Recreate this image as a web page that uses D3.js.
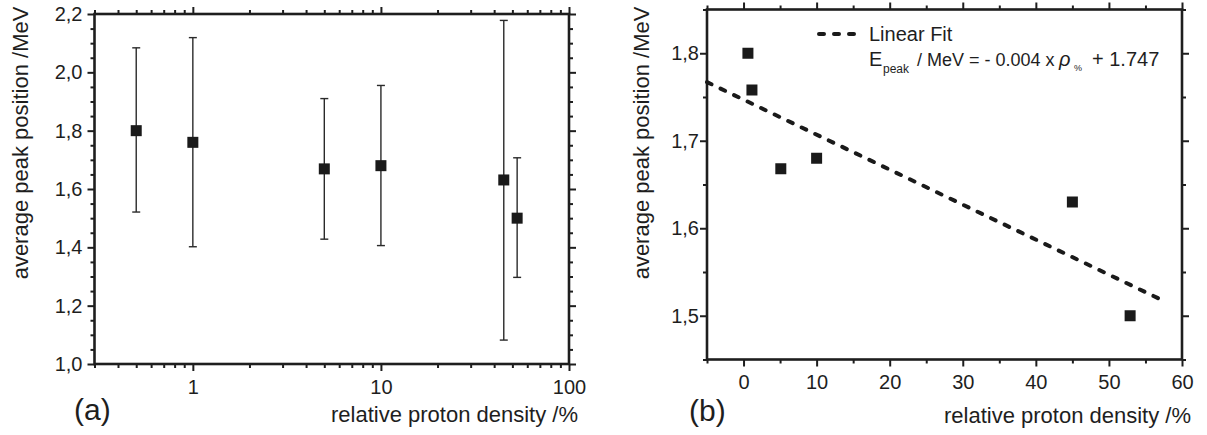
<!DOCTYPE html>
<html>
<head>
<meta charset="utf-8">
<script src="https://cdn.jsdelivr.net/npm/d3@7"></script>
<style>
  html, body { margin: 0; padding: 0; background: #fff; }
  svg { display: block; }
  text { font-family: "Liberation Sans", Arial, Helvetica, sans-serif; fill: #1e1e1e; }
</style>
</head>
<body>
<svg id="chart" width="1207" height="435"></svg>
<script>
// ---------------- data ----------------
const density = [0.5, 1, 5, 10, 45, 53];               // relative proton density /%
const peakLeft = [1.80, 1.76, 1.669, 1.68, 1.631, 1.50]; // panel (a) average peak position
const errLow = [1.521, 1.402, 1.428, 1.406, 1.082, 1.297];
const errHigh = [2.084, 2.119, 1.910, 1.955, 2.178, 1.707];
const densityRight = [0.6, 1.15, 5.1, 10, 45, 52.9];
const peakRight = [1.80, 1.758, 1.668, 1.68, 1.63, 1.50];
const fitSlope = -0.004;
const fitIntercept = 1.747;
const fitRange = [-5, 57.5];

const leftYMajor = [1.0, 1.2, 1.4, 1.6, 1.8, 2.0, 2.2];
const leftYMinor = [1.05,1.1,1.15,1.25,1.3,1.35,1.45,1.5,1.55,1.65,1.7,1.75,1.85,1.9,1.95,2.05,2.1,2.15];
const leftXMajor = [1, 10, 100];
const leftXMinor = [0.3,0.4,0.5,0.6,0.7,0.8,0.9,2,3,4,5,6,7,8,9,20,30,40,50,60,70,80,90];
const rightYMajor = [1.5, 1.6, 1.7, 1.8];
const rightYMinor = [1.45, 1.55, 1.65, 1.75, 1.85];
const rightXMajor = [0, 10, 20, 30, 40, 50, 60];
const rightXMinor = [-5, 5, 15, 25, 35, 45, 55];

const yTitle = "average peak position /MeV";
const xTitle = "relative proton density /%";

// ---------------- helpers ----------------
const svg = d3.select("#chart");
const comma = d => d.toFixed(1).replace(".", ",");
const ink = "#1e1e1e";

function drawAxis(g, axis, opts) {
  g.call(axis);
  g.select(".domain").remove();
  g.selectAll(".tick line").attr("stroke", ink).attr("stroke-width", opts.tw || 2);
  g.selectAll(".tick text").attr("fill", ink).style("font-size", (opts.fs || 20) + "px")
    .style("font-family", '"Liberation Sans", Arial, sans-serif');
  if (opts.noText) g.selectAll(".tick text").remove();
}

function panel(cfg) {
  const { x, y, L, R, T, B } = cfg;
  const g = svg.append("g");
  const sides = [
    ["bottom", d3.axisBottom, B, x, cfg.xMajor, cfg.xMinor, cfg.xFmt],
    ["top", d3.axisTop, T, x, cfg.xMajor, cfg.xMinor, null],
    ["left", d3.axisLeft, L, y, cfg.yMajor, cfg.yMinor, cfg.yFmt],
    ["right", d3.axisRight, R, y, cfg.yMajor, cfg.yMinor, null]
  ];
  sides.forEach(([side, gen, pos, sc, maj, min, fmt]) => {
    const tr = (side === "bottom" || side === "top") ? `translate(0,${pos})` : `translate(${pos},0)`;
    const gm = g.append("g").attr("transform", tr);
    drawAxis(gm, gen(sc).tickValues(min).tickSize(4).tickFormat(""), { noText: true });
    const gM = g.append("g").attr("transform", tr);
    const ax = gen(sc).tickValues(maj).tickSize(7);
    if (fmt) {
      ax.tickFormat(fmt).tickPadding(side === "left" ? cfg.yPad : cfg.xPad);
      drawAxis(gM, ax, { fs: 20 });
    } else {
      ax.tickFormat("");
      drawAxis(gM, ax, { noText: true });
    }
  });
  g.append("rect").attr("x", L).attr("y", T).attr("width", R - L).attr("height", B - T)
    .attr("fill", "none").attr("stroke", ink).attr("stroke-width", 2.6);
  return g;
}

// ---------------- panel (a) ----------------
const xa = d3.scaleLog().domain([0.3, 100]).range([94.5, 569]);
const ya = d3.scaleLinear().domain([1.0, 2.2]).range([364, 14]);
const ga = panel({ x: xa, y: ya, L: 94.5, R: 569, T: 14, B: 364,
  xMajor: leftXMajor, xMinor: leftXMinor, yMajor: leftYMajor, yMinor: leftYMinor,
  xFmt: d => String(d), yFmt: comma, xPad: 9, yPad: 5 });

const pts = density.map((d, i) => ({ x: d, y: peakLeft[i], lo: errLow[i], hi: errHigh[i] }));
const eb = ga.append("g").attr("stroke", "#2a2a2a").attr("stroke-width", 1.4);
eb.selectAll("line.v").data(pts).join("line")
  .attr("x1", d => xa(d.x)).attr("x2", d => xa(d.x))
  .attr("y1", d => ya(d.lo)).attr("y2", d => ya(d.hi));
eb.selectAll("line.t").data(pts).join("line")
  .attr("x1", d => xa(d.x) - 4).attr("x2", d => xa(d.x) + 4)
  .attr("y1", d => ya(d.hi)).attr("y2", d => ya(d.hi));
eb.selectAll("line.b").data(pts).join("line")
  .attr("x1", d => xa(d.x) - 4).attr("x2", d => xa(d.x) + 4)
  .attr("y1", d => ya(d.lo)).attr("y2", d => ya(d.lo));
const sq = 11;
ga.append("g").selectAll("rect").data(pts).join("rect")
  .attr("x", d => xa(d.x) - sq / 2).attr("y", d => ya(d.y) - sq / 2)
  .attr("width", sq).attr("height", sq).attr("fill", "#1a1a1a");

svg.append("text").attr("transform", "translate(28,143) rotate(-90)")
  .attr("text-anchor", "middle").style("font-size", "22px").text(yTitle);
svg.append("text").attr("x", 578).attr("y", 422).attr("text-anchor", "end")
  .style("font-size", "22px").text(xTitle);
svg.append("text").attr("x", 74).attr("y", 420).style("font-size", "30px").text("(a)");

// ---------------- panel (b) ----------------
const xb = d3.scaleLinear().domain([-5, 60]).range([707, 1182]);
const yb = d3.scaleLinear().domain([1.45, 1.85]).range([359.5, 9.5]);
const gb = panel({ x: xb, y: yb, L: 707, R: 1182, T: 9.5, B: 359.5,
  xMajor: rightXMajor, xMinor: rightXMinor, yMajor: rightYMajor, yMinor: rightYMinor,
  xFmt: d => String(d), yFmt: comma, xPad: 8, yPad: 1 });

const fitLine = d3.line().x(d => xb(d)).y(d => yb(fitSlope * d + fitIntercept));
gb.append("path").datum(fitRange).attr("d", fitLine)
  .attr("fill", "none").attr("stroke", "#1a1a1a").attr("stroke-width", 4)
  .attr("stroke-linecap", "round").attr("stroke-dasharray", "5 10");

const ptsB = densityRight.map((d, i) => ({ x: d, y: peakRight[i] }));
gb.append("g").selectAll("rect").data(ptsB).join("rect")
  .attr("x", d => xb(d.x) - sq / 2).attr("y", d => yb(d.y) - sq / 2)
  .attr("width", sq).attr("height", sq).attr("fill", "#1a1a1a");

// legend
svg.append("line").attr("x1", 819).attr("x2", 854).attr("y1", 34).attr("y2", 34)
  .attr("stroke", "#1a1a1a").attr("stroke-width", 4).attr("stroke-linecap", "round")
  .attr("stroke-dasharray", "5 10");
svg.append("text").attr("x", 869).attr("y", 41).style("font-size", "20px").text("Linear Fit");
const eq = svg.append("g").style("font-size", "20px");
eq.append("text").attr("x", 869).attr("y", 66).text("E");
eq.append("text").attr("x", 883).attr("y", 73).style("font-size", "12px").text("peak");
eq.append("text").attr("x", 917).attr("y", 66).style("font-size", "18px").text("/ MeV = - 0.004 x");
eq.append("text").attr("x", 1059).attr("y", 66).style("font-style", "italic").text("ρ");
eq.append("text").attr("x", 1074).attr("y", 71).style("font-size", "9px").text("%");
eq.append("text").attr("x", 1092).attr("y", 66).text("+ 1.747");

svg.append("text").attr("transform", "translate(649,143) rotate(-90)")
  .attr("text-anchor", "middle").style("font-size", "22px").text(yTitle);
svg.append("text").attr("x", 1191).attr("y", 423).attr("text-anchor", "end")
  .style("font-size", "22px").text(xTitle);
svg.append("text").attr("x", 689).attr("y", 421).style("font-size", "30px").text("(b)");
</script>
</body>
</html>
